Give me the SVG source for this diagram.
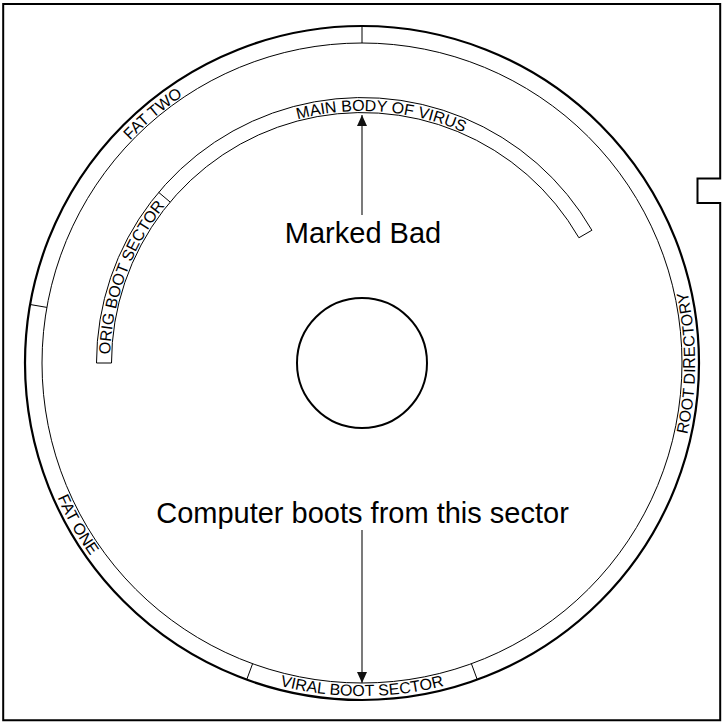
<svg xmlns="http://www.w3.org/2000/svg" width="722" height="723" viewBox="0 0 722 723">
<style>
.thin{fill:none;stroke:#000;stroke-width:1}
.thick{fill:none;stroke:#000;stroke-width:2.2}
.arc{font-family:"Liberation Sans",Arial,Helvetica,sans-serif;font-size:16px;fill:#000}
.big{font-family:"Liberation Sans",Arial,Helvetica,sans-serif;font-size:29px;fill:#000;text-anchor:middle}
.conn{fill:none;stroke:#333;stroke-width:1.3}
</style>
<defs>
<marker id="ah" viewBox="0 0 11 10" markerWidth="11" markerHeight="10" refX="11" refY="5" orient="auto" markerUnits="userSpaceOnUse">
<path d="M0,0 L11,5 L0,10 Z" fill="#111"/>
</marker>
<path id="pMain" d="M215.7,157.8 A252,252 0 0 1 538.6,183.3"/>
<path id="pOrig" d="M124.7,447.9 A252,252 0 0 1 237.1,144.1"/>
<path id="pFat2" d="M45.4,307.2 A321.5,321.5 0 0 1 362,41.5"/>
<path id="pFat1" d="M34.5,302.9 A333,333 0 0 0 245.9,675.1"/>
<path id="pViral" d="M147.9,618.1 A333,333 0 0 0 576.1,618.1"/>
<path id="pRoot" d="M617.1,577.1 A333,333 0 0 0 617.1,148.9"/>
</defs>
<rect width="722" height="723" fill="#fff"/>
<g id="frame">
<path d="M3.2,4 H720.2 V178.5 H697.5 V203 H720.2 V720.2 H3.2 Z" fill="none" stroke="#000" stroke-width="2"/>
</g>
<g id="disk">
<circle cx="362" cy="363" r="337" class="thick"/>
<circle cx="362" cy="363" r="320" class="thin"/>
<line x1="362" y1="43" x2="362" y2="26" class="thin"/>
<line x1="46.9" y1="307.4" x2="30.1" y2="304.5" class="thin"/>
<line x1="252.6" y1="663.7" x2="246.7" y2="679.7" class="thin"/>
<line x1="471.4" y1="663.7" x2="477.3" y2="679.7" class="thin"/>
</g>
<g id="hole">
<circle cx="362" cy="363" r="65" fill="none" stroke="#000" stroke-width="2"/>
</g>
<g id="band">
<path d="M96.5,363 A265.5,265.5 0 0 1 591.9,230.25 L578.9,237.75 A250.5,250.5 0 0 0 111.5,363 Z" class="thin"/>
<line x1="170.1" y1="202" x2="158.6" y2="192.3" class="thin"/>
</g>
<g id="label-main-body">
<text class="arc"><textPath href="#pMain" startOffset="50%" text-anchor="middle">MAIN BODY OF VIRUS</textPath></text>
</g>
<g id="label-orig-boot">
<text class="arc"><textPath href="#pOrig" startOffset="50%" text-anchor="middle">ORIG BOOT SECTOR</textPath></text>
</g>
<g id="label-fat-two">
<text class="arc"><textPath href="#pFat2" startOffset="50%" text-anchor="middle">FAT TWO</textPath></text>
</g>
<g id="label-fat-one">
<text class="arc"><textPath href="#pFat1" startOffset="50%" text-anchor="middle">FAT ONE</textPath></text>
</g>
<g id="label-viral-boot">
<text class="arc"><textPath href="#pViral" startOffset="50%" text-anchor="middle">VIRAL BOOT SECTOR</textPath></text>
</g>
<g id="label-root-dir">
<text class="arc"><textPath href="#pRoot" startOffset="50%" text-anchor="middle">ROOT DIRECTORY</textPath></text>
</g>
<g id="marked-bad">
<text class="big" x="363" y="243">Marked Bad</text>
</g>
<g id="computer-boots">
<text class="big" x="362.5" y="523">Computer boots from this sector</text>
</g>
<g id="connectors">
<line x1="362" y1="215" x2="362" y2="115" class="conn" marker-end="url(#ah)"/>
<line x1="362" y1="530" x2="362" y2="683" class="conn" marker-end="url(#ah)"/>
</g>
</svg>
